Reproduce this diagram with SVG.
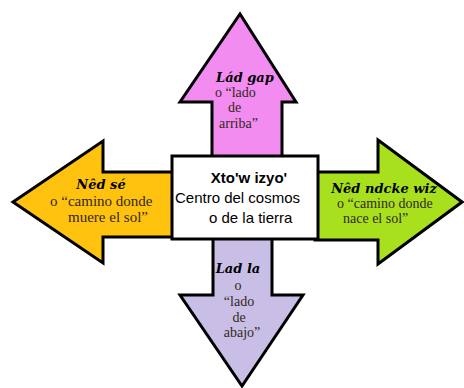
<svg xmlns="http://www.w3.org/2000/svg" width="464" height="388" viewBox="0 0 464 388">
<defs>
<style>
.arrow{stroke:#000;stroke-width:3;stroke-linejoin:miter;stroke-miterlimit:10}
.t{font-family:"DejaVu Serif","Liberation Serif",serif;font-weight:bold;font-style:italic;font-size:13px;fill:#000}
.s{font-family:"Liberation Serif","Times New Roman",serif;font-size:14px;fill:#33281a}
.c{font-family:"Liberation Sans",Arial,sans-serif;font-size:15px;fill:#000}
</style>
</defs>
<rect width="464" height="388" fill="#fff"/>
<g id="connectors">
</g>
<g id="arrow-up">
<polygon class="arrow" fill="#f28cf0" points="212,158 212,102 180,102 240,14 296,102 282,102 282,158"/>
<text class="t" x="245" y="82" text-anchor="middle">Lád gap</text>
<text class="s" x="215" y="97">o “lado</text>
<text class="s" x="228" y="112">de</text>
<text class="s" x="219" y="128">arriba”</text>
</g>
<g id="arrow-left">
<polygon class="arrow" fill="#ffc30f" points="175,172 103,172 103,141 13,202 103,263 103,237 175,237"/>
<text class="t" x="101" y="189" text-anchor="middle">Nêd sé</text>
<text class="s" x="50" y="206" style="font-size:15px">o “camino donde</text>
<text class="s" x="68" y="222" style="font-size:15px">muere el sol”</text>
</g>
<g id="arrow-right">
<polygon class="arrow" fill="#a8e01e" points="315,172 378,172 378,140 462,202 378,264 378,240 315,240"/>
<text class="t" x="384" y="193" text-anchor="middle">Nêd ndcke wiz</text>
<text class="s" x="337" y="208">o “camino donde</text>
<text class="s" x="343" y="223">nace el sol”</text>
</g>
<g id="arrow-down">
<polygon class="arrow" fill="#c9bfe6" points="213,236 213,295 180,295 242,386 303,295 272,295 272,236"/>
<text class="t" x="238" y="273" text-anchor="middle">Lad la</text>
<text class="s" x="238" y="290" text-anchor="middle">o</text>
<text class="s" x="239" y="306" text-anchor="middle">“lado</text>
<text class="s" x="239" y="322" text-anchor="middle">de</text>
<text class="s" x="242" y="337" text-anchor="middle">abajo”</text>
</g>
<g id="center">
<rect x="172" y="156" width="146" height="83" fill="#fff" stroke="#000" stroke-width="3"/>
<text class="c" x="249" y="183" text-anchor="middle" font-weight="bold">Xto'w izyo'</text>
<text class="c" x="175" y="203">Centro del cosmos</text>
<text class="c" x="209" y="223">o de la tierra</text>
</g>
</svg>
